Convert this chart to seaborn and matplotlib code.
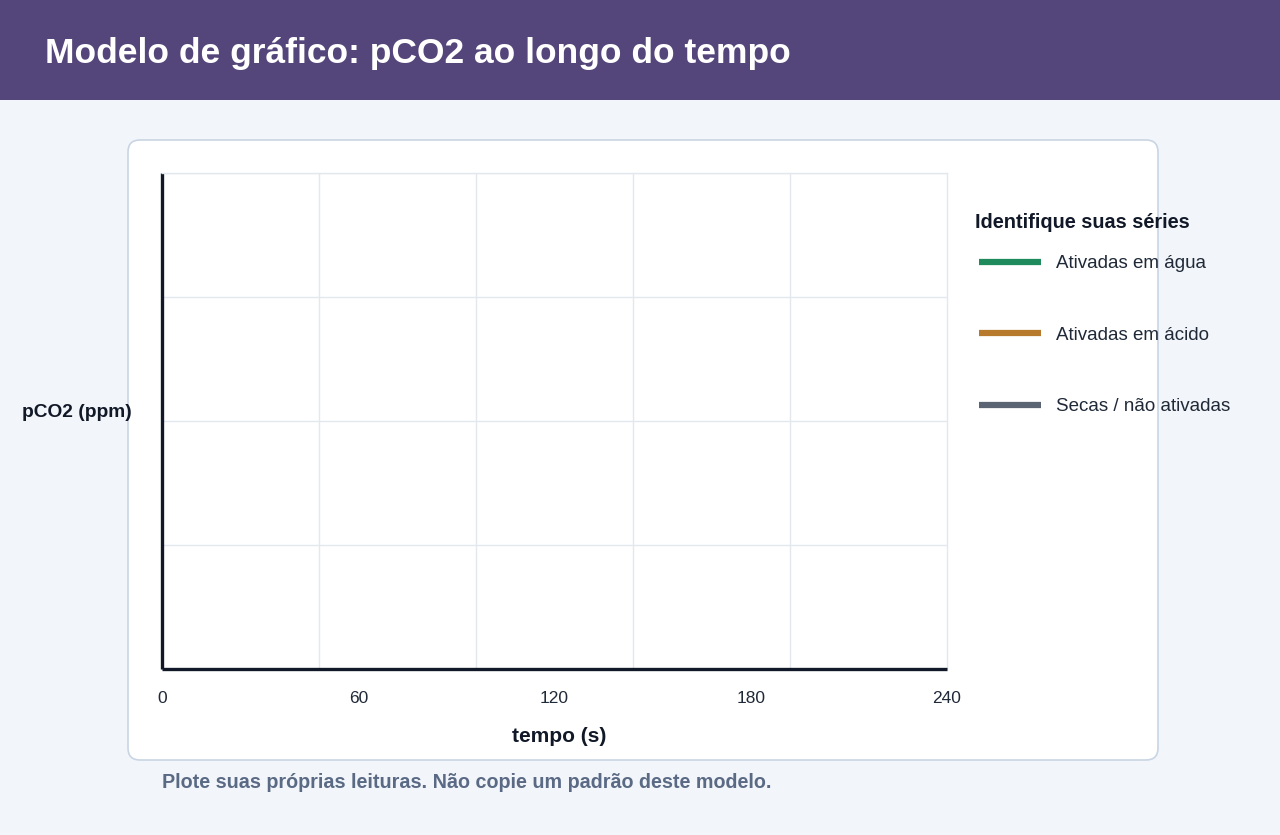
import matplotlib.pyplot as plt
import seaborn as sns
import numpy as np
from matplotlib.patches import FancyBboxPatch, Rectangle
from matplotlib.transforms import IdentityTransform


# chart content
title = "Modelo de gráfico: pCO2 ao longo do tempo"
x_label = "tempo (s)"
y_label = "pCO2 (ppm)"
x_ticks = [0, 60, 120, 180, 240]
x_grid = [0, 48, 96, 144, 192, 240]
y_grid = [0, 0.25, 0.5, 0.75, 1.0]
series_names = ["Ativadas em água", "Ativadas em ácido", "Secas / não ativadas"]
series_colors = ["#1f8a5b", "#b7792b", "#5b6472"]
legend_title = "Identifique suas séries"
footer = "Plote suas próprias leituras. Não copie um padrão deste modelo."


# draw the picture
def draw():
    sns.set_style("white")
    plt.rcParams['font.family'] = ['Liberation Sans', 'DejaVu Sans']

    fig = plt.figure(figsize=(12.8, 8.35), dpi=100)
    fig.patch.set_facecolor("#f2f5f9")

    # header band
    fig.patches.append(Rectangle((0, 1 - 100 / 835), 1, 100 / 835, transform=fig.transFigure,
                                 facecolor="#54467a", edgecolor="none", zorder=-5))
    fig.text(45 / 1280, 1 - 54 / 835, title, color="white", fontsize=25.5, fontweight="bold",
             ha="left", va="center")

    # white card
    fig.patches.append(FancyBboxPatch((128, 835 - 760), 1030, 620,
                                      boxstyle="round,pad=0,rounding_size=12",
                                      transform=IdentityTransform(), facecolor="white",
                                      edgecolor="#c9d5e3", linewidth=1.2, zorder=-5))

    ax = fig.add_axes([162 / 1280, 1 - 669 / 835, 785 / 1280, 496 / 835])
    ax.set_zorder(2)
    ax.set_facecolor("white")

    # empty series, only for the legend
    for name, color in zip(series_names, series_colors):
        ax.plot([], [], color=color, linewidth=4.5, label=name, solid_capstyle="butt")

    ax.set_xlim(0, 240)
    ax.set_ylim(0, 1)
    ax.set_xticks(x_ticks)
    ax.set_xticklabels([str(t) for t in x_ticks], fontsize=12.5, color="#1f2937")
    ax.set_xticks(x_grid, minor=True)
    ax.set_yticks(y_grid)
    ax.set_yticklabels([])
    ax.tick_params(axis="both", which="both", length=0)
    ax.tick_params(axis="x", pad=15.5)

    ax.grid(False)
    ax.grid(True, axis="x", which="minor", color="#e3e8ef", linewidth=1)
    ax.grid(True, axis="y", which="major", color="#e3e8ef", linewidth=1)

    for side in ["top", "right"]:
        ax.spines[side].set_color("#e3e8ef")
        ax.spines[side].set_linewidth(1)
    for side in ["left", "bottom"]:
        ax.spines[side].set_color("#111827")
        ax.spines[side].set_linewidth(2.4)
        ax.spines[side].set_capstyle("butt")

    ax.set_xlabel(x_label, fontsize=15, fontweight="bold", color="#111827", va="center")
    ax.xaxis.set_label_coords((559 - 162) / 785, (669 - 737) / 496)
    ax.set_ylabel(y_label, fontsize=13.8, fontweight="bold", color="#111827", rotation=0,
                  ha="center", va="center")
    ax.yaxis.set_label_coords((77 - 162) / 785, (669 - 413) / 496)

    # legend with a separate title
    fig.text(975 / 1280, 1 - 223 / 835, legend_title, color="#111827", fontsize=14.3,
             fontweight="bold", ha="left", va="center")
    leg = ax.legend(loc="upper left", bbox_to_anchor=(979 / 1280, 1 - 255 / 835),
                    bbox_transform=fig.transFigure, frameon=False, fontsize=13.5,
                    borderpad=0, borderaxespad=0, handlelength=3.3, handletextpad=0.8,
                    labelspacing=2.9)
    for t in leg.get_texts():
        t.set_color("#1f2937")

    fig.text(162 / 1280, 1 - 783 / 835, footer, color="#5a6a85", fontsize=14.2,
             fontweight="bold", ha="left", va="center")

    plt.savefig("out.png", dpi=100, facecolor=fig.get_facecolor())


# function entrance
if __name__ == "__main__":
    draw()
